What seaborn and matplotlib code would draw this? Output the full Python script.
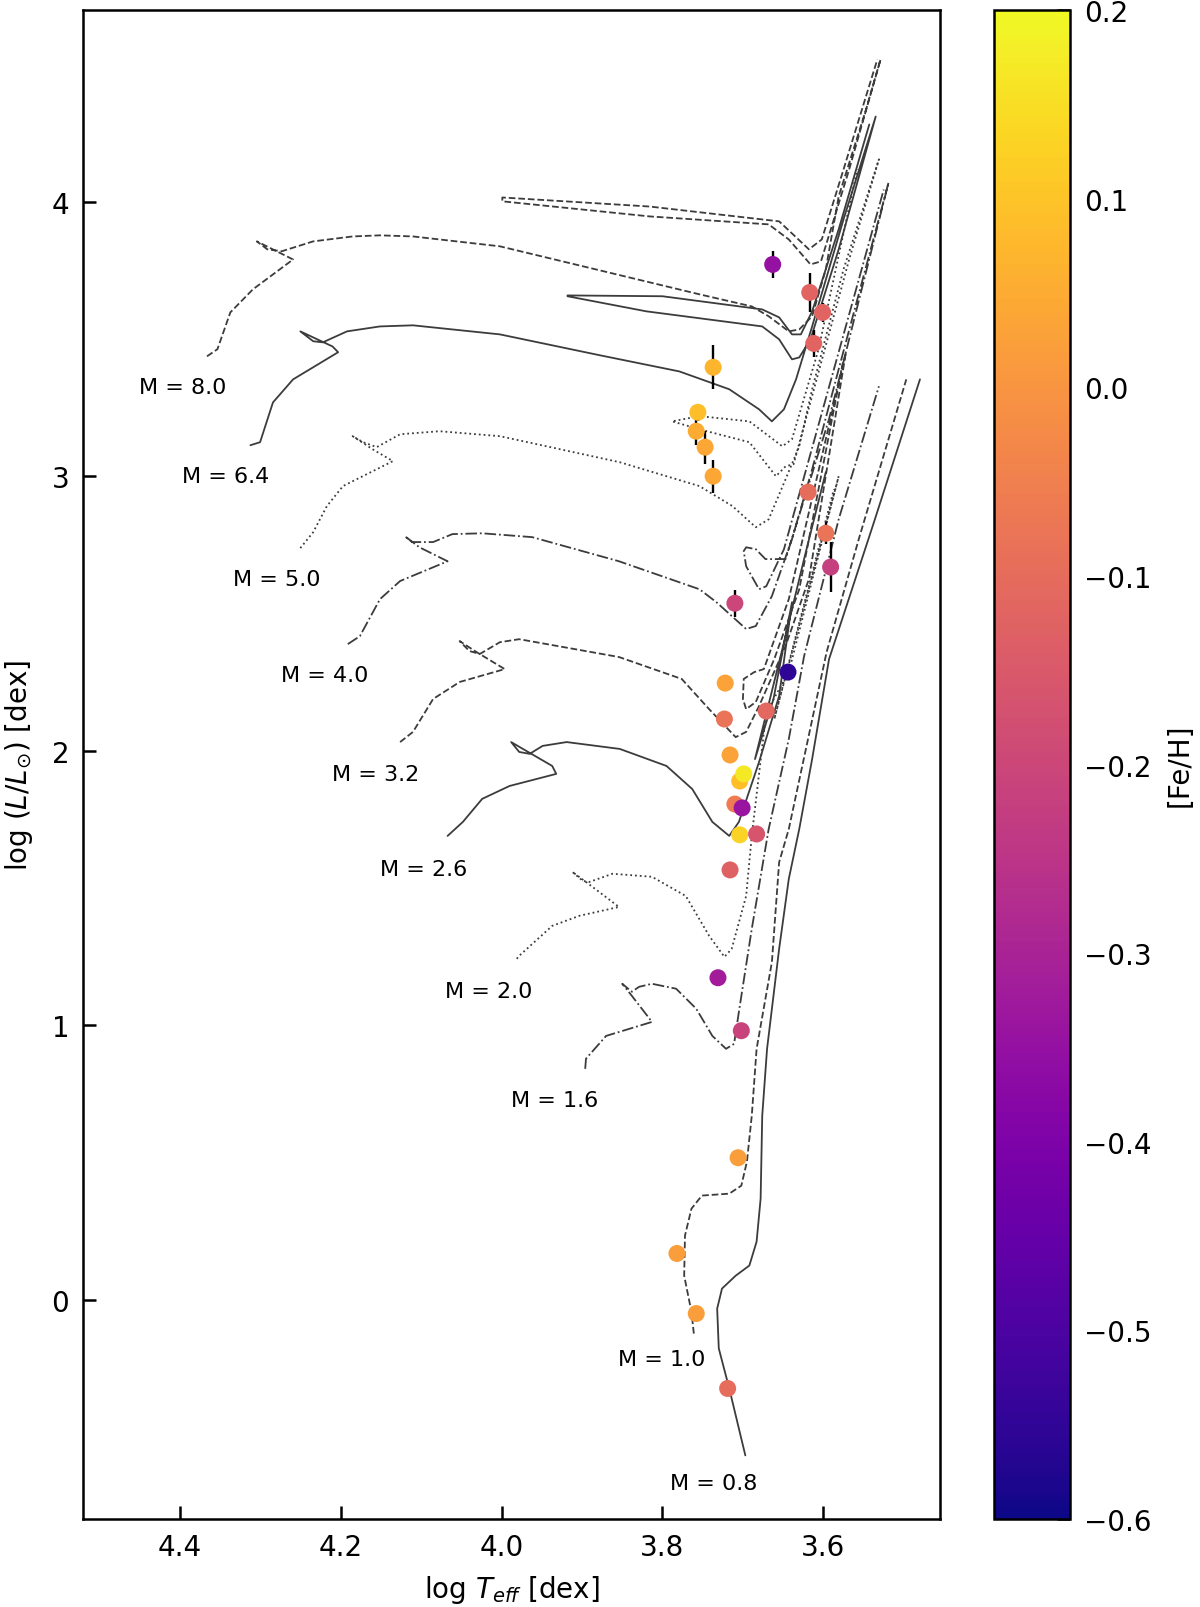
import numpy as np
import pandas as pd
import matplotlib
matplotlib.use("Agg")
import matplotlib.pyplot as plt
import seaborn as sns
from matplotlib.colors import Normalize
from matplotlib.cm import ScalarMappable

# ---------------- evolutionary tracks (log Teff, log L) ----------------
m80_T = [4.366, 4.353, 4.337, 4.309, 4.259, 4.304, 4.291, 4.273, 4.234, 4.185, 4.151, 4.110, 4.002,
         3.754, 3.689, 3.668, 3.643, 3.630, 3.614, 3.597, 3.581, 3.547, 3.529, 3.568, 3.603, 3.616,
         3.643, 3.668, 3.816, 3.999, 3.999, 3.816, 3.655, 3.618, 3.602, 3.575, 3.533]
m80_L = [3.438, 3.464, 3.598, 3.682, 3.791, 3.857, 3.828, 3.821, 3.857, 3.875, 3.879, 3.875, 3.839,
         3.664, 3.620, 3.584, 3.529, 3.536, 3.584, 3.755, 4.021, 4.338, 4.520, 4.119, 3.784, 3.773,
         3.864, 3.919, 3.948, 4.003, 4.017, 3.984, 3.930, 3.828, 3.864, 4.119, 4.520]

m64_T = [4.312, 4.300, 4.284, 4.259, 4.203, 4.210, 4.250, 4.234, 4.222, 4.192, 4.151, 4.110, 4.002,
         3.878, 3.779, 3.717, 3.680, 3.664, 3.649, 3.634, 3.614, 3.575, 3.535, 3.581, 3.616, 3.630,
         3.639, 3.655, 3.676, 3.820, 3.918, 3.918, 3.800, 3.676, 3.655, 3.639, 3.628, 3.614, 3.581, 3.543]
m64_L = [3.114, 3.125, 3.270, 3.354, 3.453, 3.474, 3.529, 3.493, 3.489, 3.529, 3.547, 3.551, 3.518,
         3.442, 3.383, 3.318, 3.245, 3.201, 3.245, 3.354, 3.547, 3.937, 4.312, 3.828, 3.500, 3.434,
         3.427, 3.500, 3.547, 3.602, 3.657, 3.660, 3.657, 3.609, 3.580, 3.518, 3.518, 3.602, 3.901, 4.283]

m50_T = [4.250, 4.234, 4.217, 4.197, 4.135, 4.160, 4.185, 4.172, 4.155, 4.126, 4.077, 4.002, 3.853,
         3.754, 3.713, 3.684, 3.668, 3.647, 3.630, 3.614, 3.575, 3.531, 3.568, 3.637, 3.647, 3.659,
         3.692, 3.754, 3.788, 3.754, 3.692, 3.651, 3.639, 3.606, 3.558]
m50_L = [2.739, 2.797, 2.892, 2.965, 3.056, 3.099, 3.147, 3.125, 3.107, 3.154, 3.165, 3.147, 3.052,
         2.965, 2.892, 2.815, 2.844, 2.990, 3.110, 3.318, 3.755, 4.156, 3.791, 3.045, 3.037, 3.001,
         3.125, 3.172, 3.201, 3.220, 3.201, 3.110, 3.136, 3.464, 4.119]

m40_T = [4.191, 4.176, 4.151, 4.126, 4.067, 4.102, 4.120, 4.111, 4.085, 4.061, 4.024, 3.962, 3.854,
         3.754, 3.733, 3.696, 3.684, 3.664, 3.639, 3.614, 3.581, 3.519, 3.593, 3.647, 3.672, 3.684,
         3.696, 3.699, 3.696, 3.680, 3.671, 3.649, 3.611, 3.525]
m40_L = [2.389, 2.418, 2.553, 2.619, 2.691, 2.742, 2.782, 2.761, 2.761, 2.790, 2.793, 2.779, 2.691,
         2.589, 2.542, 2.444, 2.455, 2.564, 2.772, 3.026, 3.391, 4.072, 3.209, 2.699, 2.699, 2.735,
         2.742, 2.728, 2.673, 2.589, 2.600, 2.735, 3.136, 4.046]

m32_T = [4.126, 4.110, 4.085, 4.052, 3.996, 4.031, 4.052, 4.040, 4.027, 4.002, 3.978, 3.854, 3.776,
         3.742, 3.709, 3.696, 3.680, 3.647, 3.618, 3.572, 3.643, 3.674, 3.686, 3.699, 3.700, 3.696,
         3.684, 3.661, 3.630, 3.575]
m32_L = [2.032, 2.069, 2.189, 2.251, 2.298, 2.360, 2.400, 2.364, 2.353, 2.396, 2.407, 2.342, 2.262,
         2.152, 2.050, 2.069, 2.163, 2.382, 2.626, 3.453, 2.553, 2.298, 2.287, 2.262, 2.189, 2.152,
         2.178, 2.335, 2.589, 3.427]

m26_T = [4.067, 4.048, 4.024, 3.990, 3.932, 3.937, 3.988, 3.978, 3.965, 3.949, 3.919, 3.853, 3.795,
         3.763, 3.738, 3.717, 3.705, 3.680, 3.655, 3.639, 3.662, 3.685, 3.651, 3.624, 3.597]
m26_L = [1.690, 1.741, 1.825, 1.872, 1.916, 1.945, 2.032, 1.996, 1.989, 2.018, 2.032, 2.007, 1.945,
         1.861, 1.741, 1.690, 1.741, 1.959, 2.200, 2.542, 2.189, 1.970, 2.371, 2.699, 3.016]

m20_T = [3.981, 3.978, 3.937, 3.903, 3.854, 3.895, 3.912, 3.899, 3.891, 3.862, 3.813, 3.771, 3.742,
         3.723, 3.714, 3.696, 3.689, 3.671, 3.643, 3.581, 3.661, 3.587]
m20_L = [1.242, 1.253, 1.362, 1.399, 1.431, 1.522, 1.559, 1.526, 1.522, 1.552, 1.541, 1.471, 1.326,
         1.249, 1.278, 1.471, 1.690, 2.141, 2.287, 3.001, 2.116, 2.954]

m16_T = [3.896, 3.895, 3.870, 3.813, 3.838, 3.850, 3.838, 3.829, 3.813, 3.783, 3.758, 3.738, 3.721,
         3.711, 3.705, 3.689, 3.668, 3.643, 3.624, 3.581, 3.531]
m16_L = [0.841, 0.878, 0.961, 1.012, 1.107, 1.151, 1.122, 1.140, 1.151, 1.133, 1.060, 0.961, 0.914,
         0.932, 1.049, 1.351, 1.715, 2.043, 2.345, 2.844, 3.329]

m10_T = [3.761, 3.764, 3.773, 3.772, 3.764, 3.751, 3.717, 3.702, 3.695, 3.689, 3.683, 3.664, 3.655,
         3.643, 3.596, 3.556, 3.497]
m10_L = [-0.124, -0.044, 0.087, 0.233, 0.331, 0.379, 0.386, 0.415, 0.503, 0.670, 0.914, 1.230, 1.594,
         1.715, 2.360, 2.772, 3.354]

m08_T = [3.697, 3.717, 3.730, 3.732, 3.726, 3.709, 3.692, 3.683, 3.678, 3.676, 3.670, 3.655, 3.643,
         3.630, 3.614, 3.593, 3.538, 3.480]
m08_L = [-0.568, -0.324, -0.178, -0.033, 0.040, 0.087, 0.124, 0.211, 0.368, 0.670, 0.914, 1.278, 1.533,
         1.715, 1.970, 2.334, 2.826, 3.354]

track_labels = ["M = 8.0", "M = 6.4", "M = 5.0", "M = 4.0", "M = 3.2",
                "M = 2.6", "M = 2.0", "M = 1.6", "M = 1.0", "M = 0.8"]
label_T = [4.396, 4.343, 4.279, 4.220, 4.157, 4.097, 4.016, 3.934, 3.801, 3.736]
label_L = [3.326, 3.002, 2.626, 2.277, 1.916, 1.571, 1.124, 0.729, -0.217, -0.670]

# ---------------- stars ----------------
star_logT = [3.663, 3.617, 3.601, 3.612, 3.737, 3.756, 3.758, 3.747, 3.737, 3.619, 3.597, 3.591,
             3.710, 3.644, 3.722, 3.723, 3.671, 3.716, 3.704, 3.699, 3.710, 3.701, 3.704, 3.683,
             3.716, 3.731, 3.702, 3.706, 3.782, 3.758, 3.719]
star_logL = [3.773, 3.671, 3.598, 3.485, 3.398, 3.234, 3.165, 3.107, 3.001, 2.943, 2.793, 2.670,
             2.538, 2.287, 2.247, 2.116, 2.145, 1.985, 1.890, 1.916, 1.806, 1.792, 1.694, 1.697,
             1.566, 1.173, 0.980, 0.517, 0.168, -0.051, -0.324]
star_eL = [0.05, 0.07, 0.035, 0.05, 0.08, 0.03, 0.05, 0.06, 0.06, 0.02, 0.04, 0.09,
           0.05, 0.0, 0.0, 0.0, 0.0, 0.0, 0.0, 0.0, 0.0, 0.0, 0.0, 0.0,
           0.0, 0.0, 0.0, 0.0, 0.0, 0.0, 0.0]
star_feh = [-0.35, -0.12, -0.12, -0.12, 0.07, 0.09, 0.05, 0.04, 0.04, -0.10, -0.08, -0.22,
            -0.20, -0.55, 0.03, -0.08, -0.11, 0.03, 0.09, 0.17, -0.06, -0.34, 0.13, -0.16,
            -0.13, -0.32, -0.21, 0.02, 0.02, 0.02, -0.10]

xticks = [4.4, 4.2, 4.0, 3.8, 3.6]
yticks = [0, 1, 2, 3, 4]
cbar_ticks = [-0.6, -0.5, -0.4, -0.3, -0.2, -0.1, 0.0, 0.1, 0.2]

# ---------------- plotting ----------------
sns.set_style("ticks")
plt.rcParams['font.family'] = ['DejaVu Sans']
plt.rcParams['mathtext.fontset'] = 'dejavusans'
for key in ['axes.edgecolor', 'xtick.color', 'ytick.color', 'text.color',
            'axes.labelcolor', 'xtick.labelcolor', 'ytick.labelcolor']:
    plt.rcParams[key] = 'black'

fig = plt.figure(figsize=(12, 16.08), dpi=100)
ax = fig.add_axes([0.0692, 0.0547, 0.7142, 0.9384])
cax = fig.add_axes([0.8283, 0.0547, 0.0633, 0.9384])

tracks = [(m80_T, m80_L), (m64_T, m64_L), (m50_T, m50_L), (m40_T, m40_L), (m32_T, m32_L),
          (m26_T, m26_L), (m20_T, m20_L), (m16_T, m16_L), (m10_T, m10_L), (m08_T, m08_L)]
styles = ['--', '-', ':', '-.']
for i, (T, L) in enumerate(tracks):
    sns.lineplot(x=T, y=L, sort=False, estimator=None, ax=ax, color='#3c3c3c',
                 linestyle=styles[i % 4], linewidth=1.3, zorder=1)

for lab, tx, ly in zip(track_labels, label_T, label_L):
    ax.text(tx, ly, lab, ha='center', va='center', fontsize=16, color='black')

df = pd.DataFrame({'logT': star_logT, 'logL': star_logL, 'eL': star_eL, 'feh': star_feh})
derr = df[df['eL'] > 0]
ax.errorbar(derr['logT'], derr['logL'], yerr=derr['eL'], fmt='none', ecolor='black',
            elinewidth=1.7, capsize=0, zorder=2)
norm = Normalize(vmin=-0.6, vmax=0.2)
sns.scatterplot(data=df, x='logT', y='logL', hue='feh', palette='plasma', hue_norm=norm,
                s=150, edgecolor='none', legend=False, ax=ax, zorder=3)

ax.set_xlim(4.52, 3.455)
ax.set_ylim(-0.8, 4.7)
ax.set_xticks(xticks)
ax.set_xticklabels([f"{v:.1f}" for v in xticks])
ax.set_yticks(yticks)
ax.set_xlabel(r"log $T_{eff}$ [dex]", fontsize=20, labelpad=9)
ax.set_ylabel(r"log ($L/L_{\odot}$) [dex]", fontsize=20, labelpad=12)
ax.tick_params(direction='in', length=9.5, width=1.8, labelsize=20, pad=10, color='black')
for sp in ax.spines.values():
    sp.set_linewidth(1.8)
    sp.set_color('black')
    sp.set_visible(True)

sm = ScalarMappable(norm=norm, cmap='plasma')
cb = fig.colorbar(sm, cax=cax, ticks=cbar_ticks)
cb.ax.tick_params(direction='in', length=9.5, width=1.8, labelsize=20, pad=10, color='black')
cb.outline.set_linewidth(1.8)
cb.outline.set_edgecolor('black')
cb.set_label("[Fe/H]", fontsize=20, labelpad=10)

fig.savefig("out.png", dpi=100)
